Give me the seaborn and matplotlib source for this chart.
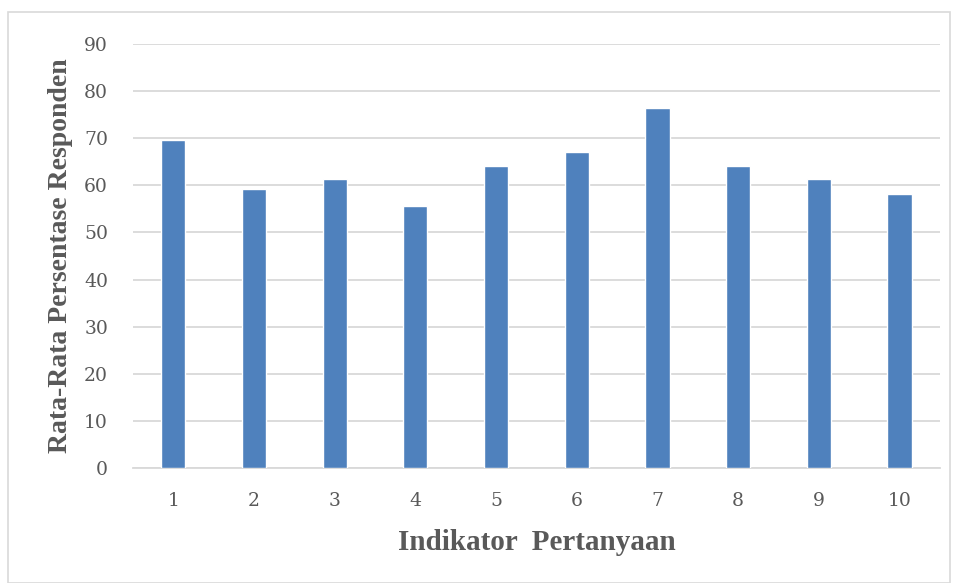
import matplotlib.pyplot as plt
import pandas as pd
import seaborn as sns
from matplotlib.patches import Rectangle

# data
indikator = ["1", "2", "3", "4", "5", "6", "7", "8", "9", "10"]
rata_rata = [69.5, 59.3, 61.4, 55.5, 64.0, 67.0, 76.3, 64.0, 61.4, 58.1]

df = pd.DataFrame({"Indikator": indikator, "Nilai": rata_rata})

sns.set_style("white")
plt.rcParams['font.family'] = ['Liberation Serif', 'DejaVu Serif']

fig = plt.figure(figsize=(9.57, 5.83), dpi=100)
ax = fig.add_axes([0.139, 0.197, 0.843, 0.728])

sns.barplot(data=df, x="Indikator", y="Nilai", color="#4f81bd", width=0.3,
            saturation=1, ax=ax, zorder=3)

ax.set_ylim(0, 90)
ax.set_yticks(range(0, 91, 10))
ax.yaxis.grid(True, color="#d9d9d9", linewidth=1.3, zorder=0)
ax.set_axisbelow(True)
for s in ["top", "right", "left"]:
    ax.spines[s].set_visible(False)
ax.spines["bottom"].set_color("#d9d9d9")
ax.spines["bottom"].set_linewidth(1.3)
ax.tick_params(axis="both", length=0, labelcolor="#595959")
ax.tick_params(axis="y", pad=18)
ax.tick_params(axis="x", pad=17)
for lbl in ax.get_xticklabels() + ax.get_yticklabels():
    lbl.set_fontfamily("DejaVu Serif")
    lbl.set_fontsize(13.5)

ax.set_xlabel("Indikator  Pertanyaan", fontsize=21, fontweight="bold",
              color="#595959", labelpad=14)
ax.set_ylabel("Rata-Rata Persentase Responden", fontsize=20, fontweight="bold",
              color="#595959", labelpad=8)

# outer chart border
fig.patches.append(Rectangle((8 / 957, 0), 942 / 957, 571 / 583,
                             transform=fig.transFigure, fill=False,
                             edgecolor="#d9d9d9", linewidth=1.2))

fig.savefig("out.png", dpi=100)
